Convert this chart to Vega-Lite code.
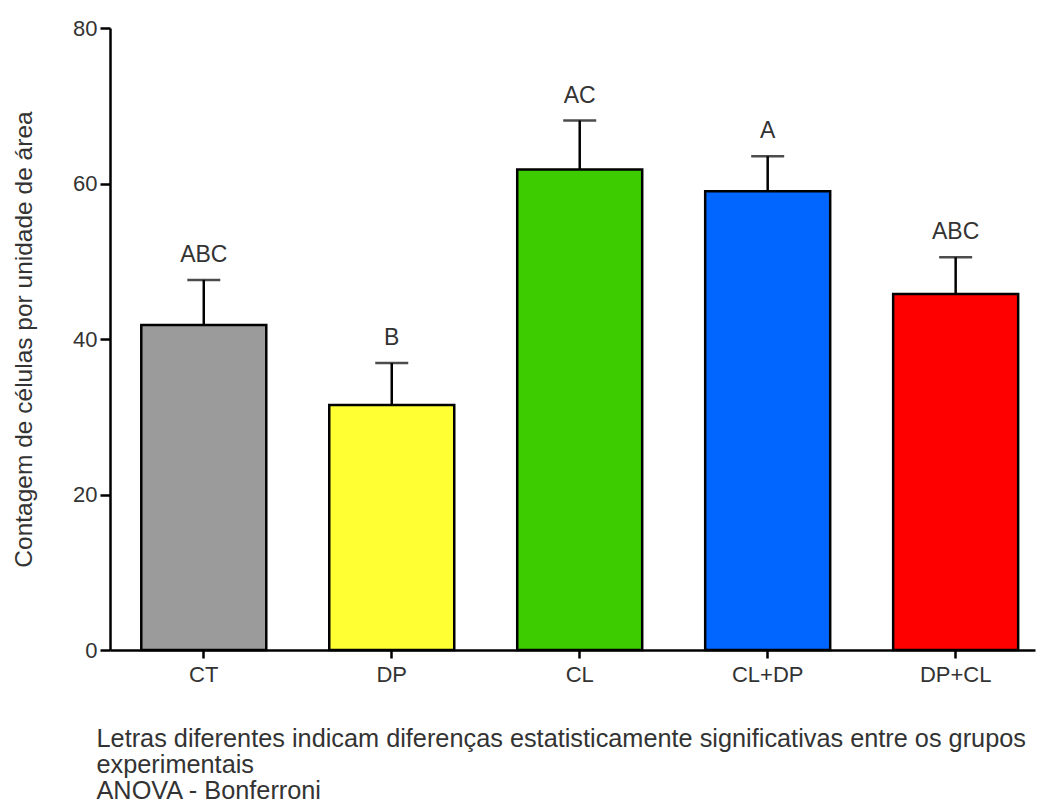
{
  "$schema": "https://vega.github.io/schema/vega-lite/v6.json",
  "autosize": "none",
  "width": 925,
  "height": 622,
  "padding": {"left": 110, "top": 28, "right": 5, "bottom": 159},
  "background": "white",
  "config": {
    "view": {"stroke": null},
    "font": "Liberation Sans",
    "axis": {"grid": false, "domainColor": "black", "tickColor": "black", "domainWidth": 2.5, "tickWidth": 2.5, "labelColor": "#333333", "titleColor": "#333333", "labelFont": "Liberation Sans", "titleFont": "Liberation Sans", "titleFontWeight": "normal"}
  },
  "data": {
    "values": [
      {"group": "CT", "mean": 41.8, "upper": 47.6, "letters": "ABC"},
      {"group": "DP", "mean": 31.5, "upper": 36.9, "letters": "B"},
      {"group": "CL", "mean": 61.8, "upper": 68.1, "letters": "AC"},
      {"group": "CL+DP", "mean": 59.0, "upper": 63.5, "letters": "A"},
      {"group": "DP+CL", "mean": 45.8, "upper": 50.5, "letters": "ABC"}
    ]
  },
  "encoding": {
    "x": {
      "field": "group",
      "type": "nominal",
      "sort": ["CT", "DP", "CL", "CL+DP", "DP+CL"],
      "scale": {"paddingInner": 0.335, "paddingOuter": 0.128, "align": 0.65},
      "axis": {
        "labelAngle": 0,
        "labelFontSize": 22,
        "labelPadding": 6,
        "tickSize": 8,
        "title": ["Letras diferentes indicam diferenças estatisticamente significativas entre os grupos", "experimentais", "ANOVA - Bonferroni"],
        "titleFontSize": 25.3,
        "titleLineHeight": 26,
        "titleAnchor": "start",
        "titleAlign": "left",
        "titleBaseline": "alphabetic",
        "titleX": -14,
        "titleY": 96
      }
    }
  },
  "layer": [
    {
      "mark": {"type": "bar", "stroke": "black", "strokeWidth": 2.5},
      "encoding": {
        "y": {
          "field": "mean",
          "type": "quantitative",
          "scale": {"domain": [0, 80], "nice": false},
          "axis": {
            "values": [0, 20, 40, 60, 80],
            "labelFontSize": 22,
            "labelPadding": 3,
            "tickSize": 10,
            "title": "Contagem de células por unidade de área",
            "titleFontSize": 24.5,
            "titlePadding": 36
          }
        },
        "color": {
          "field": "group",
          "type": "nominal",
          "scale": {"domain": ["CT", "DP", "CL", "CL+DP", "DP+CL"], "range": ["#9b9b9b", "#ffff33", "#3ccc00", "#0066ff", "#ff0000"]},
          "legend": null
        }
      }
    },
    {
      "mark": {"type": "rule", "color": "black", "strokeWidth": 2.5},
      "encoding": {
        "y": {"field": "mean", "type": "quantitative"},
        "y2": {"field": "upper"}
      }
    },
    {
      "mark": {"type": "tick", "color": "black", "thickness": 2.5, "size": 33},
      "encoding": {
        "y": {"field": "upper", "type": "quantitative"}
      }
    },
    {
      "mark": {"type": "text", "fontSize": 23, "color": "#333333", "baseline": "middle", "dy": -25},
      "encoding": {
        "y": {"field": "upper", "type": "quantitative"},
        "text": {"field": "letters"}
      }
    }
  ]
}
